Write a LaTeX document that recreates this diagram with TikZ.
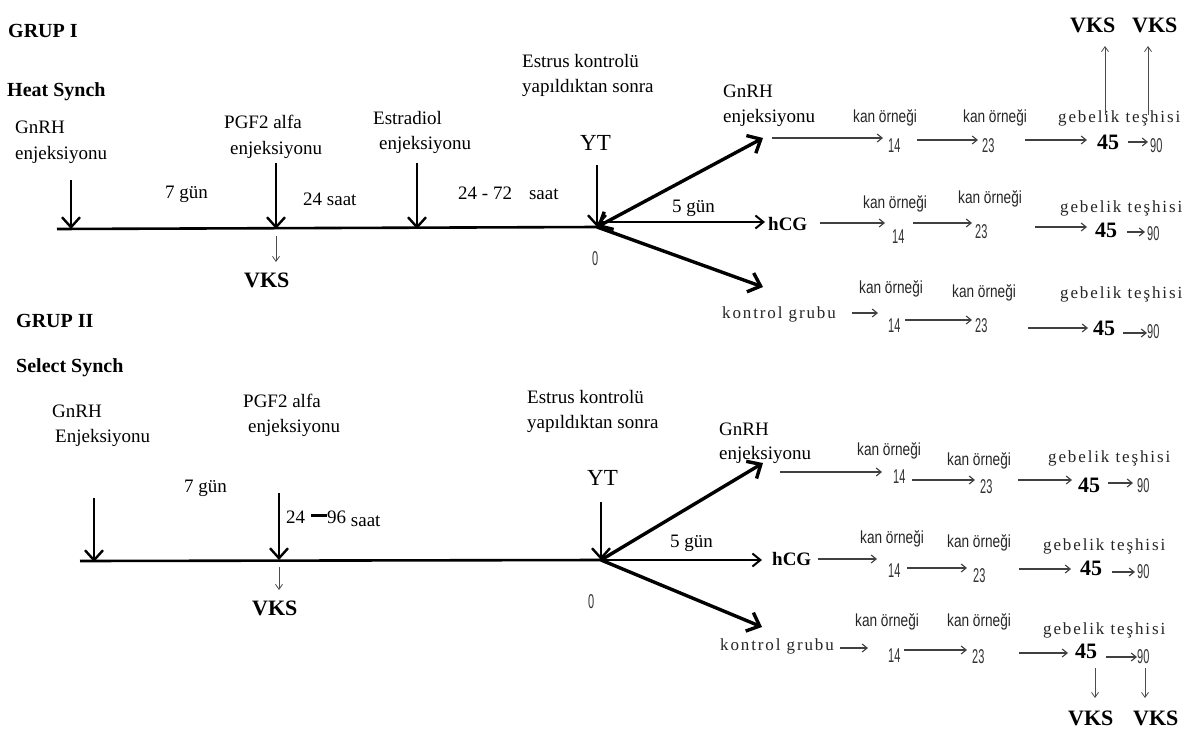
\documentclass[tikz,border=0pt]{standalone}
\usepackage{fontspec}
\setmainfont{Liberation Serif}
\newfontfamily\condfont[FakeStretch=0.78]{Liberation Sans}
\newfontfamily\numfont[FakeStretch=0.55]{Liberation Sans}
\newfontfamily\spfont[LetterSpace=11]{Liberation Serif}
\usetikzlibrary{arrows.meta}
\begin{document}
\begin{tikzpicture}[x=1pt,y=-1pt,
  every node/.style={inner sep=0pt, anchor=base west},
  txt/.style={font=\fontsize{19}{22}\selectfont},
  hdr/.style={font=\fontsize{20}{22}\selectfont\bfseries},
  vks/.style={font=\fontsize{22}{24}\selectfont\bfseries},
  ytlab/.style={font=\fontsize{23}{25}\selectfont},
  kan/.style={font=\fontsize{17.5}{19}\condfont, text=black!85},
  num/.style={font=\fontsize{20}{22}\numfont, text=black!80},
  geb/.style={font=\fontsize{17}{19}\spfont, text=black!85},
  big/.style={font=\fontsize{22}{24}\selectfont\bfseries},
  hcg/.style={font=\fontsize{19}{21}\selectfont\bfseries},
  tline/.style={line width=2.6pt},
  inj/.style={line width=2.4pt, -{Straight Barb[length=10pt,width=18pt]}},
  fan/.style={line width=3.4pt, -{Straight Barb[length=11pt,width=20pt]}},
  fanboth/.style={line width=3.4pt, {Straight Barb[length=11pt,width=20pt]}-{Straight Barb[length=11pt,width=20pt]}},
  midarr/.style={line width=2pt, -{Straight Barb[length=8pt,width=13pt]}},
  thin/.style={line width=1.1pt, draw=black!75, -{Straight Barb[length=5pt,width=8pt]}},
  small/.style={line width=0.8pt, draw=black!70, -{Straight Barb[length=5pt,width=7pt]}},
]
\useasboundingbox[fill=white] (0,0) rectangle (1201,731);

%================ GRUP I =================
\node[hdr] (g1) at (8,37) {GRUP I};
\node[hdr] (hs) at (7,96) {Heat Synch};
\node[txt] (a1) at (15,133) {GnRH};
\node[txt] (a2) at (15,159) {enjeksiyonu};
\node[txt] (b1) at (224,128) {PGF2 alfa};
\node[txt] (b2) at (230,154) {enjeksiyonu};
\node[txt] (c1) at (373,124) {Estradiol};
\node[txt] (c2) at (379,149) {enjeksiyonu};
\node[txt] (d1) at (522,67) {Estrus kontrolü};
\node[txt] (d2) at (522,92) {yapıldıktan sonra};
\node[ytlab] (yt1) at (580,150) {YT};
\node[txt] (s1) at (165,198) {7 gün};
\node[txt] (s2) at (303,205) {24 saat};
\node[txt] (s3) at (458,199) {24 - 72\hspace{17pt}saat};
\node[vks] (v1) at (244,287) {VKS};
\node[num] (z1) at (592,265) {0};
\node[txt] (fg1) at (672,212) {5 gün};
\node[txt] (e1) at (723,97) {GnRH};
\node[txt] (e2) at (723,122) {enjeksiyonu};
\node[hcg] (h1) at (768,230) {hCG};
\node[geb] (k1) at (722,318) {kontrol grubu};

% timeline
\coordinate (t1s) at (57,229);
\coordinate (O1) at (597,227);
\draw[tline] (t1s) -- (O1);
\coordinate (ia1) at (71,180);  \coordinate (ib1) at (71,229);
\coordinate (ia2) at (276,163); \coordinate (ib2) at (276,229);
\coordinate (ia3) at (417,163); \coordinate (ib3) at (417,229);
\coordinate (ia4) at (597,165); \coordinate (ib4) at (597,227);
\draw[inj] (ia1) -- (ib1);
\draw[inj] (ia2) -- (ib2);
\draw[inj] (ia3) -- (ib3);
\draw[inj] (ia4) -- (ib4);
\coordinate (sv1a) at (276,236); \coordinate (sv1b) at (276,262);
\draw[small] (sv1a) -- (sv1b);
% fan
\coordinate (fa1) at (763,138);
\coordinate (fh1s) at (599,222); \coordinate (fh1) at (765,222);
\coordinate (fk1) at (763,287);
\draw[fanboth] (O1) -- (fa1);
\draw[midarr] (fh1s) -- (fh1);
\draw[fan] (O1) -- (fk1);

% row 1
\node[kan] (r1k1) at (853,122) {kan örneği};
\node[num] (r1n14) at (888,152) {14};
\node[kan] (r1k2) at (963,122) {kan örneği};
\node[num] (r1n23) at (982,152) {23};
\node[geb] (r1g) at (1058,122) {gebelik teşhisi};
\node[big] (r1n45) at (1097,149) {45};
\node[num] (r1n90) at (1150,152) {90};
\node[vks] (r1v1) at (1070,32) {VKS};
\node[vks] (r1v2) at (1132,32) {VKS};
\coordinate (p1a) at (772,138);  \coordinate (p1b) at (883,138);
\coordinate (p2a) at (917,140);  \coordinate (p2b) at (978,140);
\coordinate (p3a) at (1025,140); \coordinate (p3b) at (1087,140);
\coordinate (p4a) at (1128,142); \coordinate (p4b) at (1148,142);
\coordinate (u1a) at (1105,115); \coordinate (u1b) at (1105,46);
\coordinate (u2a) at (1148,115); \coordinate (u2b) at (1148,46);
\draw[thin] (p1a) -- (p1b);
\draw[thin] (p2a) -- (p2b);
\draw[thin] (p3a) -- (p3b);
\draw[thin] (p4a) -- (p4b);
\draw[small] (u1a) -- (u1b);
\draw[small] (u2a) -- (u2b);

% row 2
\node[kan] (r2k1) at (863,208) {kan örneği};
\node[num] (r2n14) at (892,243) {14};
\node[kan] (r2k2) at (958,203) {kan örneği};
\node[num] (r2n23) at (975,238) {23};
\node[geb] (r2g) at (1060,212) {gebelik teşhisi};
\node[big] (r2n45) at (1095,237) {45};
\node[num] (r2n90) at (1147,240) {90};
\coordinate (q1a) at (820,223);  \coordinate (q1b) at (885,223);
\coordinate (q2a) at (913,223);  \coordinate (q2b) at (972,223);
\coordinate (q3a) at (1035,227); \coordinate (q3b) at (1087,227);
\coordinate (q4a) at (1127,232); \coordinate (q4b) at (1145,232);
\draw[thin] (q1a) -- (q1b);
\draw[thin] (q2a) -- (q2b);
\draw[thin] (q3a) -- (q3b);
\draw[thin] (q4a) -- (q4b);

% row 3
\node[kan] (r3k1) at (859,293) {kan örneği};
\node[num] (r3n14) at (888,332) {14};
\node[kan] (r3k2) at (952,297) {kan örneği};
\node[num] (r3n23) at (975,332) {23};
\node[geb] (r3g) at (1060,298) {gebelik teşhisi};
\node[big] (r3n45) at (1093,335) {45};
\node[num] (r3n90) at (1147,338) {90};
\coordinate (w1a) at (852,313);  \coordinate (w1b) at (878,313);
\coordinate (w2a) at (905,320);  \coordinate (w2b) at (972,320);
\coordinate (w3a) at (1028,328); \coordinate (w3b) at (1088,328);
\coordinate (w4a) at (1123,333); \coordinate (w4b) at (1147,333);
\draw[thin] (w1a) -- (w1b);
\draw[thin] (w2a) -- (w2b);
\draw[thin] (w3a) -- (w3b);
\draw[thin] (w4a) -- (w4b);

%================ GRUP II =================
\node[hdr] (g2) at (16,327) {GRUP II};
\node[hdr] (sls) at (16,372) {Select Synch};
\node[txt] (ba1) at (52,417) {GnRH};
\node[txt] (ba2) at (55,442) {Enjeksiyonu};
\node[txt] (bb1) at (243,407) {PGF2 alfa};
\node[txt] (bb2) at (248,432) {enjeksiyonu};
\node[txt] (bs1) at (184,492) {7 gün};
\node[txt] (bs2) at (286,523) {24\hspace{6pt}\rule[6pt]{16pt}{3pt}96 \raisebox{-3pt}{saat}};
\node[vks] (bv1) at (252,615) {VKS};
\node[txt] (bd1) at (527,403) {Estrus kontrolü};
\node[txt] (bd2) at (527,428) {yapıldıktan sonra};
\node[ytlab] (yt2) at (587,485) {YT};
\node[num] (z2) at (588,608) {0};
\node[txt] (bfg) at (670,547) {5 gün};
\node[txt] (be1) at (719,435) {GnRH};
\node[txt] (be2) at (719,459) {enjeksiyonu};
\node[hcg] (h2) at (772,565) {hCG};
\node[geb] (k2) at (720,650) {kontrol grubu};

\coordinate (t2s) at (80,561);
\coordinate (O2) at (601,560);
\draw[tline] (t2s) -- (O2);
\coordinate (ja1) at (94,498);  \coordinate (jb1) at (94,562);
\coordinate (ja2) at (279,493); \coordinate (jb2) at (279,560);
\coordinate (ja3) at (601,502); \coordinate (jb3) at (601,560);
\draw[inj] (ja1) -- (jb1);
\draw[inj] (ja2) -- (jb2);
\draw[inj] (ja3) -- (jb3);
\coordinate (sv2a) at (279,567); \coordinate (sv2b) at (279,590);
\draw[small] (sv2a) -- (sv2b);
\coordinate (fa2) at (763,463);
\coordinate (fh2) at (762,560);
\coordinate (fk2) at (762,627);
\draw[fan] (O2) -- (fa2);
\draw[midarr] (O2) -- (fh2);
\draw[fan] (O2) -- (fk2);

% row B1
\node[kan] (s1k1) at (857,455) {kan örneği};
\node[num] (s1n14) at (893,483) {14};
\node[kan] (s1k2) at (947,465) {kan örneği};
\node[num] (s1n23) at (980,493) {23};
\node[geb] (s1g) at (1048,462) {gebelik teşhisi};
\node[big] (s1n45) at (1078,492) {45};
\node[num] (s1n90) at (1137,492) {90};
\coordinate (x1a) at (780,472);  \coordinate (x1b) at (882,472);
\coordinate (x2a) at (912,480);  \coordinate (x2b) at (975,480);
\coordinate (x3a) at (1018,480); \coordinate (x3b) at (1072,480);
\coordinate (x4a) at (1108,483); \coordinate (x4b) at (1133,483);
\draw[thin] (x1a) -- (x1b);
\draw[thin] (x2a) -- (x2b);
\draw[thin] (x3a) -- (x3b);
\draw[thin] (x4a) -- (x4b);

% row B2
\node[kan] (s2k1) at (860,543) {kan örneği};
\node[num] (s2n14) at (888,577) {14};
\node[kan] (s2k2) at (947,547) {kan örneği};
\node[num] (s2n23) at (973,582) {23};
\node[geb] (s2g) at (1043,550) {gebelik teşhisi};
\node[big] (s2n45) at (1080,575) {45};
\node[num] (s2n90) at (1137,578) {90};
\coordinate (y1a) at (818,559);  \coordinate (y1b) at (877,559);
\coordinate (y2a) at (907,568);  \coordinate (y2b) at (967,568);
\coordinate (y3a) at (1019,569); \coordinate (y3b) at (1071,569);
\coordinate (y4a) at (1112,572); \coordinate (y4b) at (1135,572);
\draw[thin] (y1a) -- (y1b);
\draw[thin] (y2a) -- (y2b);
\draw[thin] (y3a) -- (y3b);
\draw[thin] (y4a) -- (y4b);

% row B3
\node[kan] (s3k1) at (855,626) {kan örneği};
\node[num] (s3n14) at (888,662) {14};
\node[kan] (s3k2) at (947,626) {kan örneği};
\node[num] (s3n23) at (972,663) {23};
\node[geb] (s3g) at (1043,634) {gebelik teşhisi};
\node[big] (s3n45) at (1075,658) {45};
\node[num] (s3n90) at (1137,663) {90};
\node[vks] (s3v1) at (1068,725) {VKS};
\node[vks] (s3v2) at (1133,725) {VKS};
\coordinate (v1a) at (840,648);  \coordinate (v1b) at (868,648);
\coordinate (v2a) at (904,650);  \coordinate (v2b) at (967,650);
\coordinate (v3a) at (1019,653); \coordinate (v3b) at (1068,653);
\coordinate (v4a) at (1106,657); \coordinate (v4b) at (1137,657);
\coordinate (d1a) at (1095,668); \coordinate (d1b) at (1095,698);
\coordinate (d2a) at (1145,668); \coordinate (d2b) at (1145,698);
\draw[thin] (v1a) -- (v1b);
\draw[thin] (v2a) -- (v2b);
\draw[thin] (v3a) -- (v3b);
\draw[thin] (v4a) -- (v4b);
\draw[small] (d1a) -- (d1b);
\draw[small] (d2a) -- (d2b);
\end{tikzpicture}
\end{document}
